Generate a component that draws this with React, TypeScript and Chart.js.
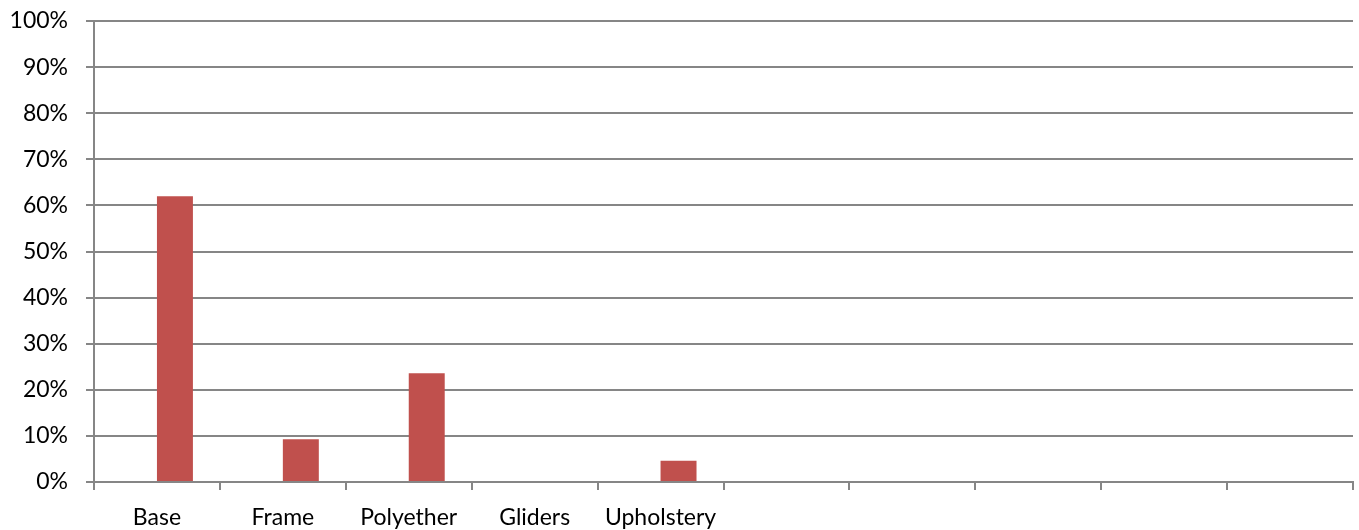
import React, { useEffect, useRef } from "react";
import { Chart, registerables } from "chart.js";

Chart.register(...registerables);

const categories = ["Base", "Frame", "Polyether", "Gliders", "Upholstery", "", "", "", "", ""];
const firstSeries = [null, null, null, null, null, null, null, null, null, null];
const shares = [62, 9.3, 23.6, 0, 4.6, null, null, null, null, null];
const yTicks = [0, 10, 20, 30, 40, 50, 60, 70, 80, 90, 100];

const GRID = "#868686";
const FONT = "Lato, 'Open Sans', sans-serif";
const FONT_SIZE = 23;

export default function App() {
  const ref = useRef<HTMLCanvasElement | null>(null);
  useEffect(() => {
    document.body.style.margin = "0";
    const chart = new Chart(ref.current!, {
      type: "bar",
      data: {
        labels: categories,
        datasets: [
          {
            data: firstSeries as any,
            backgroundColor: "#4F81BD",
            barPercentage: 1,
            categoryPercentage: 0.5714,
          },
          {
            data: shares as any,
            backgroundColor: "#C0504D",
            barPercentage: 1,
            categoryPercentage: 0.5714,
          },
        ],
      },
      options: {
        animation: false,
        responsive: false,
        maintainAspectRatio: false,
        layout: { padding: { top: 21, right: 6, left: 0, bottom: 0 } },
        plugins: { legend: { display: false }, tooltip: { enabled: false } },
        scales: {
          x: {
            offset: true,
            grid: {
              offset: true,
              drawOnChartArea: false,
              drawTicks: true,
              tickLength: 8,
              color: GRID,
              lineWidth: 2,
            },
            border: { color: GRID, width: 2 },
            ticks: {
              color: "#000",
              font: { family: FONT, size: FONT_SIZE },
              padding: 14,
              maxRotation: 0,
              autoSkip: false,
            },
            afterFit: (s: any) => {
              s.height = 48;
              s.paddingLeft = 0;
              s.paddingRight = 0;
            },
          },
          y: {
            min: 0,
            max: 100,
            afterBuildTicks: (s: any) => {
              s.ticks = yTicks.map((v) => ({ value: v }));
            },
            grid: { color: GRID, lineWidth: 2, tickLength: 8 },
            border: { color: GRID, width: 2 },
            ticks: {
              color: "#000",
              font: { family: FONT, size: FONT_SIZE },
              padding: 18,
              callback: (v: any) => v + "%",
            },
            afterFit: (s: any) => {
              s.width = 94;
              s.paddingTop = 0;
              s.paddingBottom = 0;
            },
          },
        },
      },
    });
    return () => chart.destroy();
  }, []);
  return (
    <div style={{ width: 1359, height: 530 }}>
      <canvas ref={ref} width={1359} height={530} style={{ width: 1359, height: 530 }} />
    </div>
  );
}
